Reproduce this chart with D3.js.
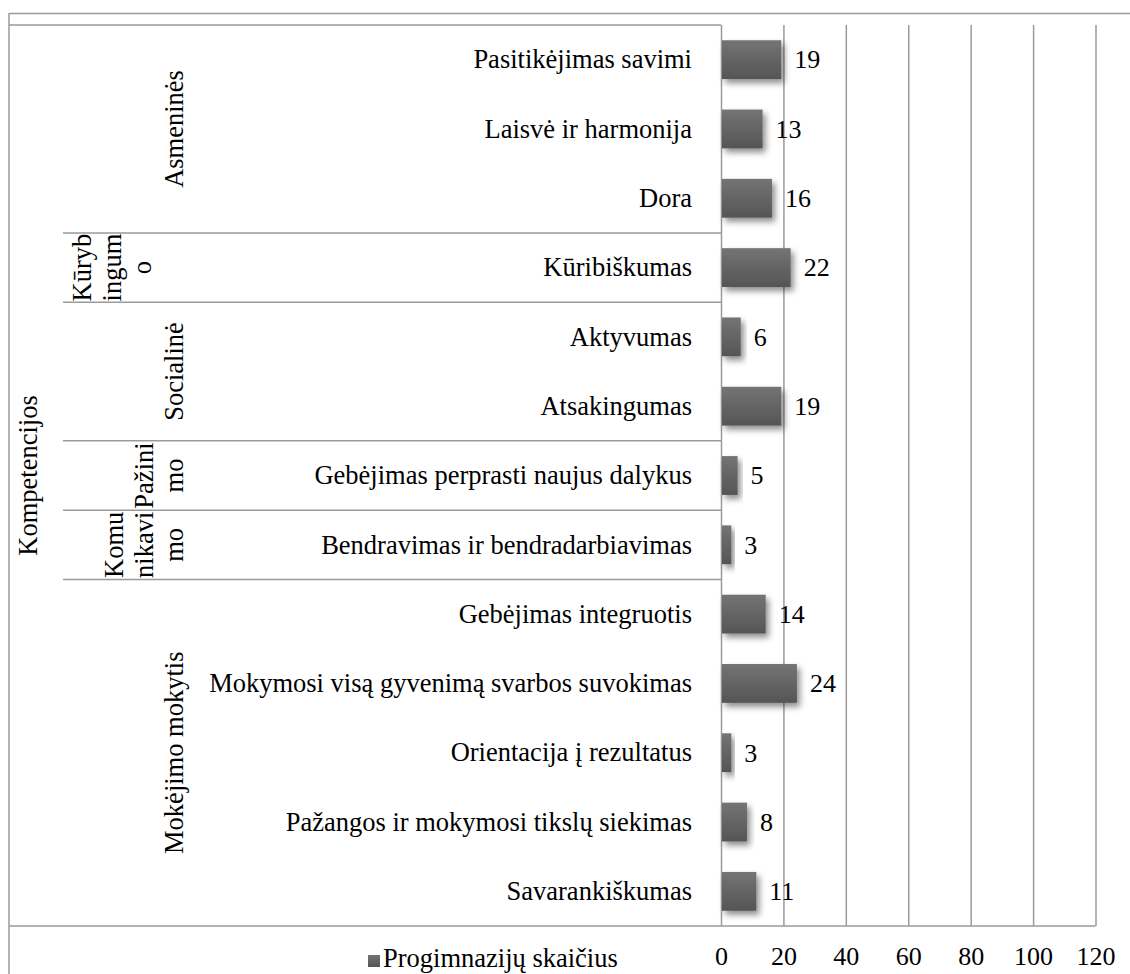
<!DOCTYPE html>
<html>
<head>
<meta charset="utf-8">
<script src="https://cdn.jsdelivr.net/npm/d3@7"></script>
<style>
  html, body { margin: 0; padding: 0; background: #fff; }
  svg { display: block; }
</style>
</head>
<body>
<svg id="chart" width="1130" height="974" font-family="Liberation Serif, Tinos, Nimbus Roman, FreeSerif, DejaVu Serif, serif"></svg>
<script>
// ---- data ----
const categories = [
  "Pasitikėjimas savimi",
  "Laisvė ir harmonija",
  "Dora",
  "Kūribiškumas",
  "Aktyvumas",
  "Atsakingumas",
  "Gebėjimas perprasti naujus dalykus",
  "Bendravimas ir bendradarbiavimas",
  "Gebėjimas integruotis",
  "Mokymosi visą gyvenimą svarbos suvokimas",
  "Orientacija į rezultatus",
  "Pažangos ir mokymosi tikslų siekimas",
  "Savarankiškumas"
];
const groups = ["Asmeninės", "Kūrybingumo", "Socialinė", "Pažinimo", "Komunikavimo", "Mokėjimo mokytis"];
const groupSizes = [3, 1, 2, 1, 1, 5];
const values = [19, 13, 16, 22, 6, 19, 5, 3, 14, 24, 3, 8, 11];
const xTicks = [0, 20, 40, 60, 80, 100, 120];
const topLevelLabel = "Kompetencijos";
const seriesName = "Progimnazijų skaičius";

// ---- layout ----
const W = 1130, H = 974;
const plotLeft = 721, plotRight = 1095.5, plotTop = 25, plotBottom = 926;
const tableLeft = 9, groupColLeft = 63;
const lineColor = "#9a9a9a";
const FONT = "Liberation Serif, Tinos, Nimbus Roman, FreeSerif, DejaVu Serif, serif";
const labelFont = 26.5, numFont = 26;

// approximate serif advance widths (per 1000 em) used for char-wrapping group labels
const advance = { K:722, A:722, P:556, S:556, M:889, " ":250, m:778, r:333, i:278, j:278, l:278, t:278,
  s:389, a:444, e:444, "ė":444, c:444, "ž":444 };
function textWidth(str, size) {
  let w = 0;
  for (const ch of str) w += (advance[ch] || 500);
  return w / 1000 * size;
}
function wrapChars(str, maxW, size) {
  const lines = [];
  let cur = "";
  for (const ch of str) {
    const test = cur + ch;
    if (cur && textWidth(test, size) > maxW) { lines.push(cur); cur = ch; }
    else cur = test;
  }
  if (cur) lines.push(cur);
  return lines;
}

const svg = d3.select("#chart");
svg.append("rect").attr("width", W).attr("height", H).attr("fill", "#fff");

const defs = svg.append("defs");
const grad = defs.append("linearGradient").attr("id", "barGrad")
  .attr("x1", 0).attr("y1", 0).attr("x2", 0).attr("y2", 1);
grad.append("stop").attr("offset", "0%").attr("stop-color", "#747474");
grad.append("stop").attr("offset", "100%").attr("stop-color", "#555555");
const filt = defs.append("filter").attr("id", "shadow")
  .attr("x", "-20%").attr("y", "-30%").attr("width", "150%").attr("height", "170%");
filt.append("feDropShadow").attr("dx", 3).attr("dy", 4).attr("stdDeviation", 3)
  .attr("flood-color", "#000").attr("flood-opacity", 0.45);

const x = d3.scaleLinear().domain([0, 120]).range([plotLeft, plotRight]);
const y = d3.scaleBand().domain(categories).range([plotTop, plotBottom])
  .paddingInner(0.44).paddingOuter(0.22);
const step = y.step();

function txt(sel, size) {
  return sel.attr("font-family", FONT).style("font-family", FONT)
    .style("font-size", size + "px").attr("fill", "#000");
}

// outer chart border (partly cropped)
svg.append("line").attr("x1", tableLeft).attr("x2", W).attr("y1", 13.5).attr("y2", 13.5)
  .attr("stroke", lineColor).attr("stroke-width", 1.5);
svg.append("line").attr("x1", tableLeft).attr("x2", tableLeft).attr("y1", 13).attr("y2", H)
  .attr("stroke", lineColor).attr("stroke-width", 1.5);
// category table top
svg.append("line").attr("x1", tableLeft).attr("x2", plotLeft).attr("y1", plotTop).attr("y2", plotTop)
  .attr("stroke", lineColor).attr("stroke-width", 1.5);

// x axis with gridlines
const axis = d3.axisBottom(x).tickValues(xTicks).tickSize(-(plotBottom - plotTop)).tickPadding(21);
const ax = svg.append("g").attr("transform", `translate(0,${plotBottom})`).call(axis);
ax.attr("font-family", FONT).attr("font-size", numFont);
ax.select(".domain").remove();
ax.selectAll(".tick line").attr("stroke", lineColor).attr("stroke-width", 1.5);
txt(ax.selectAll(".tick text"), numFont);

// bottom line
svg.append("line").attr("x1", tableLeft).attr("x2", plotRight).attr("y1", plotBottom).attr("y2", plotBottom)
  .attr("stroke", lineColor).attr("stroke-width", 1.5);

// group separators
let cum = 0;
const groupInfo = groups.map((g, i) => {
  const start = cum; cum += groupSizes[i];
  return { name: g, start, end: cum };
});
groupInfo.slice(1).forEach(gi => {
  const yy = plotTop + gi.start * step;
  svg.append("line").attr("x1", groupColLeft).attr("x2", plotLeft).attr("y1", yy).attr("y2", yy)
    .attr("stroke", lineColor).attr("stroke-width", 1.5);
});

// bars
svg.append("g").selectAll("rect").data(values).join("rect")
  .attr("x", x(0) + 1)
  .attr("y", (d, i) => y(categories[i]))
  .attr("width", d => x(d) - x(0))
  .attr("height", y.bandwidth())
  .attr("fill", "url(#barGrad)")
  .attr("filter", "url(#shadow)");

// value labels
txt(svg.append("g").selectAll("text").data(values).join("text")
  .attr("x", d => x(d) + 14)
  .attr("y", (d, i) => y(categories[i]) + y.bandwidth() / 2)
  .attr("dy", "0.34em")
  .text(d => d), numFont);

// category labels
txt(svg.append("g").selectAll("text").data(categories).join("text")
  .attr("x", 692)
  .attr("y", d => y(d) + y.bandwidth() / 2)
  .attr("dy", "0.33em")
  .attr("text-anchor", "end")
  .text(d => d), labelFont);

// group labels (rotated, char-wrapped to the group's height)
const lineH = 30;
const lastBaseline = { "Kūrybingumo": 151 };
groupInfo.forEach(gi => {
  const span = (gi.end - gi.start) * step;
  const cy = plotTop + (gi.start + gi.end) / 2 * step;
  const lines = wrapChars(gi.name, span - 1, labelFont);
  const lb = lastBaseline[gi.name] || 183;
  lines.forEach((ln, k) => {
    const bx = lb - (lines.length - 1 - k) * lineH;
    txt(svg.append("text")
      .attr("transform", `translate(${bx},${cy}) rotate(-90)`)
      .attr("text-anchor", "middle")
      .text(ln), labelFont);
  });
});

// top-level label
txt(svg.append("text")
  .attr("transform", `translate(37,${(plotTop + plotBottom) / 2}) rotate(-90)`)
  .attr("text-anchor", "middle")
  .text(topLevelLabel), labelFont);

// legend
svg.append("rect").attr("x", 368).attr("y", 955).attr("width", 12).attr("height", 12)
  .attr("fill", "url(#barGrad)");
txt(svg.append("text").attr("x", 383).attr("y", 966.5).text(seriesName), labelFont);
</script>
</body>
</html>
